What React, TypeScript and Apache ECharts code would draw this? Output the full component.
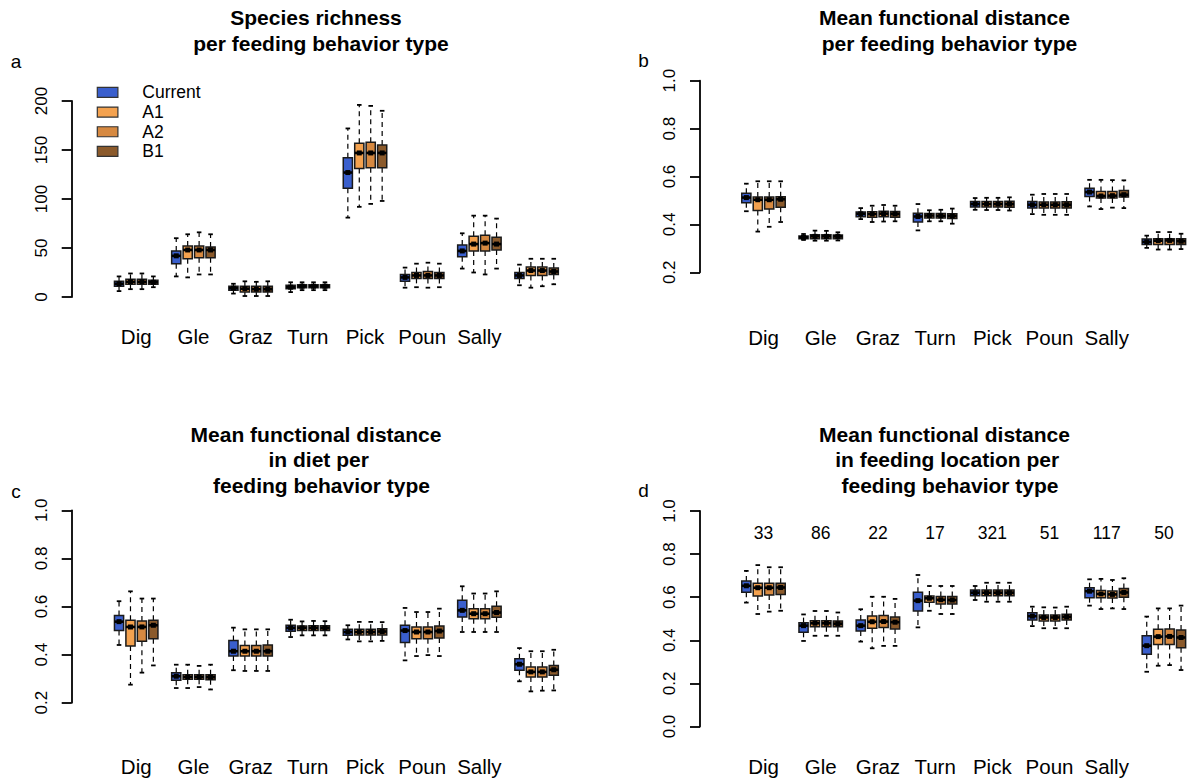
import React, { useEffect, useRef } from 'react';
import * as echarts from 'echarts';

// ---------- data ----------
const GROUPS = ['Dig', 'Gle', 'Graz', 'Turn', 'Pick', 'Poun', 'Sally', ''];
const SCENARIOS = ['Current', 'A1', 'A2', 'B1'];
const SAMPLE_SIZES = [33, 86, 22, 17, 321, 51, 117, 50];

// each entry: [lower whisker, Q1, median, Q3, upper whisker]
const richCurrent = [[6, 11, 13.5, 16, 21], [21, 34, 42, 47, 60], [3.5, 7, 9, 11, 13.5], [5, 8.5, 10, 12, 15], [81, 111, 127, 142, 172], [9.5, 16, 20, 23, 30], [29, 41, 47, 53, 65], [12, 19, 22, 25, 33]];
const richA1 = [[8, 13, 15.5, 18, 24], [20, 39, 48, 52, 64], [1, 5, 8.5, 11, 16], [7, 9.5, 11, 12.5, 15], [92, 131, 147, 157, 196], [10, 19, 22, 25, 34], [25, 47, 54, 62, 83], [9.5, 22, 27, 30.5, 39]];
const richA2 = [[8, 13, 15.5, 18, 24], [23, 40, 48, 52, 66], [1, 5, 8, 11, 15.5], [7, 9.5, 11, 12.5, 15], [95, 132, 147, 158, 195], [9.5, 19, 22, 26, 35], [23, 47, 55, 63, 83], [11, 22, 27, 30.5, 39]];
const richB1 = [[10, 13, 15, 17, 21], [23, 40, 48, 51, 64], [1, 5, 8, 11, 16], [7, 9.5, 11, 12.5, 15], [98, 132, 147, 155, 190], [10, 19, 22, 25, 34], [29, 48, 54, 61, 80], [13, 23, 26, 29.5, 39]];

const mfdCurrent = [[0.455, 0.49, 0.512, 0.53, 0.57], [0.335, 0.34, 0.346, 0.352, 0.36], [0.422, 0.432, 0.444, 0.452, 0.468], [0.375, 0.41, 0.433, 0.447, 0.485], [0.461, 0.473, 0.485, 0.496, 0.51], [0.443, 0.468, 0.482, 0.496, 0.524], [0.475, 0.517, 0.535, 0.551, 0.586], [0.302, 0.316, 0.327, 0.339, 0.353]];
const mfdA1 = [[0.37, 0.458, 0.503, 0.514, 0.58], [0.332, 0.34, 0.35, 0.357, 0.374], [0.41, 0.43, 0.443, 0.453, 0.478], [0.413, 0.427, 0.437, 0.445, 0.459], [0.46, 0.473, 0.485, 0.496, 0.511], [0.44, 0.468, 0.482, 0.494, 0.527], [0.464, 0.51, 0.519, 0.537, 0.586], [0.295, 0.316, 0.332, 0.34, 0.368]];
const mfdA2 = [[0.39, 0.464, 0.503, 0.514, 0.58], [0.332, 0.34, 0.35, 0.357, 0.373], [0.412, 0.432, 0.445, 0.455, 0.481], [0.413, 0.427, 0.436, 0.445, 0.461], [0.46, 0.473, 0.485, 0.496, 0.511], [0.44, 0.468, 0.482, 0.494, 0.527], [0.47, 0.51, 0.52, 0.537, 0.585], [0.295, 0.316, 0.333, 0.34, 0.368]];
const mfdB1 = [[0.41, 0.472, 0.505, 0.515, 0.58], [0.333, 0.34, 0.35, 0.356, 0.367], [0.413, 0.43, 0.444, 0.454, 0.478], [0.403, 0.425, 0.435, 0.444, 0.466], [0.458, 0.472, 0.485, 0.497, 0.513], [0.44, 0.468, 0.482, 0.495, 0.527], [0.468, 0.514, 0.524, 0.542, 0.584], [0.297, 0.316, 0.33, 0.34, 0.361]];

const dietCurrent = [[0.44, 0.5, 0.537, 0.563, 0.622], [0.261, 0.293, 0.31, 0.325, 0.358], [0.335, 0.394, 0.414, 0.459, 0.512], [0.473, 0.497, 0.511, 0.522, 0.545], [0.463, 0.48, 0.494, 0.505, 0.522], [0.376, 0.45, 0.5, 0.522, 0.594], [0.494, 0.556, 0.584, 0.626, 0.684], [0.289, 0.335, 0.36, 0.383, 0.427]];
const dietA1 = [[0.275, 0.436, 0.515, 0.543, 0.663], [0.261, 0.297, 0.307, 0.316, 0.358], [0.332, 0.394, 0.414, 0.438, 0.505], [0.48, 0.5, 0.511, 0.519, 0.538], [0.455, 0.481, 0.494, 0.505, 0.536], [0.394, 0.466, 0.494, 0.515, 0.577], [0.494, 0.549, 0.57, 0.591, 0.654], [0.247, 0.307, 0.328, 0.348, 0.414]];
const dietA2 = [[0.325, 0.455, 0.515, 0.54, 0.633], [0.265, 0.297, 0.307, 0.316, 0.353], [0.332, 0.394, 0.414, 0.438, 0.505], [0.48, 0.5, 0.511, 0.52, 0.54], [0.455, 0.481, 0.494, 0.505, 0.536], [0.398, 0.466, 0.494, 0.515, 0.577], [0.494, 0.549, 0.57, 0.591, 0.654], [0.25, 0.307, 0.328, 0.348, 0.414]];
const dietB1 = [[0.355, 0.466, 0.522, 0.543, 0.633], [0.255, 0.295, 0.306, 0.316, 0.358], [0.332, 0.394, 0.414, 0.44, 0.505], [0.48, 0.5, 0.511, 0.52, 0.539], [0.457, 0.482, 0.496, 0.507, 0.535], [0.394, 0.469, 0.498, 0.519, 0.591], [0.494, 0.555, 0.575, 0.601, 0.663], [0.251, 0.314, 0.337, 0.355, 0.42]];

const locCurrent = [[0.575, 0.623, 0.653, 0.675, 0.722], [0.397, 0.437, 0.468, 0.482, 0.52], [0.394, 0.443, 0.468, 0.494, 0.544], [0.46, 0.536, 0.584, 0.623, 0.703], [0.587, 0.607, 0.621, 0.633, 0.652], [0.466, 0.494, 0.512, 0.528, 0.556], [0.561, 0.598, 0.628, 0.644, 0.683], [0.254, 0.335, 0.375, 0.421, 0.51]];
const locA1 = [[0.522, 0.606, 0.644, 0.665, 0.749], [0.421, 0.463, 0.479, 0.491, 0.536], [0.363, 0.456, 0.486, 0.513, 0.602], [0.537, 0.576, 0.595, 0.605, 0.652], [0.579, 0.607, 0.621, 0.633, 0.667], [0.456, 0.49, 0.506, 0.517, 0.553], [0.545, 0.598, 0.615, 0.631, 0.685], [0.282, 0.381, 0.417, 0.451, 0.548]];
const locA2 = [[0.533, 0.61, 0.644, 0.665, 0.739], [0.421, 0.463, 0.479, 0.491, 0.536], [0.374, 0.459, 0.487, 0.515, 0.602], [0.522, 0.569, 0.588, 0.603, 0.652], [0.579, 0.607, 0.621, 0.633, 0.667], [0.456, 0.49, 0.506, 0.517, 0.552], [0.548, 0.596, 0.613, 0.629, 0.68], [0.285, 0.381, 0.418, 0.452, 0.548]];
const locB1 = [[0.537, 0.613, 0.645, 0.665, 0.739], [0.421, 0.463, 0.477, 0.49, 0.529], [0.374, 0.453, 0.484, 0.508, 0.592], [0.522, 0.569, 0.587, 0.603, 0.652], [0.579, 0.607, 0.621, 0.633, 0.667], [0.456, 0.494, 0.509, 0.521, 0.556], [0.545, 0.6, 0.622, 0.64, 0.688], [0.262, 0.366, 0.413, 0.448, 0.561]];

const PANEL_DATA = [
  [richCurrent, richA1, richA2, richB1],
  [mfdCurrent, mfdA1, mfdA2, mfdB1],
  [dietCurrent, dietA1, dietA2, dietB1],
  [locCurrent, locA1, locA2, locB1],
];

const TITLES = [
  ['Species richness', 'per feeding behavior type'],
  ['Mean functional distance', 'per feeding behavior type'],
  ['Mean functional distance', 'in diet per', 'feeding behavior type'],
  ['Mean functional distance', 'in feeding location per', 'feeding behavior type'],
];
const LETTERS = ['a', 'b', 'c', 'd'];

const Y_SCALES = [
  { min: 0, max: 200, interval: 50, decimals: 0 },
  { min: 0.2, max: 1, interval: 0.2, decimals: 1 },
  { min: 0.2, max: 1, interval: 0.2, decimals: 1 },
  { min: 0, max: 1, interval: 0.2, decimals: 1 },
];

// ---------- styling / layout ----------
const FONT = 'Liberation Sans';
const COLORS = ['#3A5FCD', '#F4A24F', '#D68941', '#8B5A2B'];
const GROUP_PX = 57.2;
const SLOT = 0.2;
const BOX_W = 0.16;

const LAYOUT = [
  { left: 79, axisX: 71.7, top: 101, bottom: 297, xMax: 8, labelMargin: 29, titleX: 316, titleY: [17, 43], letter: [16, 61] },
  { left: 706.3, axisX: 700, top: 80.7, bottom: 272.3, xMax: 7.42, labelMargin: 55, titleX: 944.5, titleY: [17, 43], letter: [643.5, 60] },
  { left: 79, axisX: 71.7, top: 510.3, bottom: 702.7, xMax: 8, labelMargin: 53, titleX: 316, titleY: [434, 459, 485], letter: [16, 491] },
  { left: 706.3, axisX: 700, top: 511, bottom: 726.5, xMax: 7.42, labelMargin: 29.5, titleX: 944.5, titleY: [434, 459, 485], letter: [643.5, 490] },
];
const LINE_SHIFT = [[0, 5], [0, 5], [0, 2.7, 5.5], [0, 2.7, 5.5]];

const renderBox = (color: string) => (_params: any, api: any) => {
  const u = api.value(0);
  const pMin = api.coord([u, api.value(1)]);
  const pQ1 = api.coord([u, api.value(2)]);
  const pMed = api.coord([u, api.value(3)]);
  const pQ3 = api.coord([u, api.value(4)]);
  const pMax = api.coord([u, api.value(5)]);
  const xl = api.coord([u - BOX_W / 2, api.value(3)])[0];
  const xr = api.coord([u + BOX_W / 2, api.value(3)])[0];
  const cx = pMed[0];
  const bw = xr - xl;
  const cap = bw / 4;
  const dash = { stroke: '#000', lineWidth: 1.2, lineDash: [5, 4] };
  const solid = { stroke: '#000', lineWidth: 1.8 };
  return {
    type: 'group',
    children: [
      { type: 'line', shape: { x1: cx, y1: pQ3[1], x2: cx, y2: pMax[1] }, style: dash },
      { type: 'line', shape: { x1: cx, y1: pQ1[1], x2: cx, y2: pMin[1] }, style: dash },
      { type: 'line', shape: { x1: cx - cap, y1: pMax[1], x2: cx + cap, y2: pMax[1] }, style: solid },
      { type: 'line', shape: { x1: cx - cap, y1: pMin[1], x2: cx + cap, y2: pMin[1] }, style: solid },
      {
        type: 'rect',
        shape: { x: xl, y: pQ3[1], width: bw, height: pQ1[1] - pQ3[1] },
        style: { fill: color, stroke: '#1a1a1a', lineWidth: 1.5 },
      },
      { type: 'line', shape: { x1: xl, y1: pMed[1], x2: xr, y2: pMed[1] }, style: { stroke: '#000', lineWidth: 2.6 } },
      { type: 'rect', shape: { x: cx - 2.5, y: pMed[1] - 2.5, width: 5, height: 5 }, style: { fill: '#000' } },
    ],
  };
};

export default function App() {
  const ref = useRef<HTMLDivElement>(null);

  useEffect(() => {
    if (!ref.current) return;
    const chart = echarts.init(ref.current, null, { renderer: 'svg' });

    const grid = LAYOUT.map((L) => ({
      left: L.left,
      top: L.top,
      width: (L.xMax + 1) * GROUP_PX,
      height: L.bottom - L.top,
      containLabel: false,
      outerBoundsMode: 'none',
    }));

    const xAxis = LAYOUT.map((L, i) => ({
      type: 'value',
      gridIndex: i,
      min: -1,
      max: L.xMax,
      interval: 1,
      axisLine: { show: false, onZero: false },
      axisTick: { show: false },
      splitLine: { show: false },
      axisLabel: {
        margin: L.labelMargin,
        fontSize: 20.5,
        color: '#000',
        fontFamily: FONT,
        showMinLabel: true,
        showMaxLabel: true,
        hideOverlap: false,
        formatter: (v: number) => {
          const r = Math.round(v);
          if (Math.abs(v - r) > 1e-6) return '';
          return GROUPS[r] ?? '';
        },
      },
    }));

    const yAxis = LAYOUT.map((L, i) => {
      const S = Y_SCALES[i];
      return {
        type: 'value',
        gridIndex: i,
        min: S.min,
        max: S.max,
        interval: S.interval,
        offset: L.left - L.axisX,
        axisLine: { show: true, onZero: false, lineStyle: { color: '#000', width: 1.8 } },
        axisTick: { show: true, length: 10, lineStyle: { color: '#000', width: 1.8 } },
        splitLine: { show: false },
        axisLabel: {
          rotate: 90,
          margin: 22,
          fontSize: 17,
          color: '#000',
          fontFamily: FONT,
          showMinLabel: true,
          showMaxLabel: true,
          formatter: (v: number) => v.toFixed(S.decimals),
        },
      };
    });

    const series: any[] = [];
    PANEL_DATA.forEach((panel, i) => {
      panel.forEach((stats, k) => {
        series.push({
          type: 'custom',
          name: SCENARIOS[k],
          xAxisIndex: i,
          yAxisIndex: i,
          clip: false,
          silent: true,
          itemStyle: { color: COLORS[k] },
          encode: { x: 0, y: [1, 2, 3, 4, 5] },
          data: stats.map((s, g) => [g + (k - 1.5) * SLOT, ...s]),
          renderItem: renderBox(COLORS[k]),
        });
      });
    });

    series.push({
      type: 'custom',
      xAxisIndex: 3,
      yAxisIndex: 3,
      clip: false,
      silent: true,
      encode: { x: 0, y: 1 },
      data: SAMPLE_SIZES.map((n, g) => [g, 0.9, n]),
      renderItem: (_p: any, api: any) => {
        const c = api.coord([api.value(0), api.value(1)]);
        return {
          type: 'text',
          x: c[0],
          y: c[1],
          style: {
            text: String(api.value(2)),
            fontSize: 17.5,
            fontFamily: FONT,
            fill: '#000',
            align: 'center',
            verticalAlign: 'middle',
          },
        };
      },
    });

    const graphic: any[] = [];
    LAYOUT.forEach((L, i) => {
      TITLES[i].forEach((line, j) => {
        graphic.push({
          type: 'text',
          x: L.titleX + LINE_SHIFT[i][j],
          y: L.titleY[j],
          style: {
            text: line,
            fontSize: 21,
            fontWeight: 'bold',
            fontFamily: FONT,
            fill: '#000',
            align: 'center',
            verticalAlign: 'middle',
          },
        });
      });
      graphic.push({
        type: 'text',
        x: L.letter[0],
        y: L.letter[1],
        style: {
          text: LETTERS[i],
          fontSize: 19,
          fontFamily: FONT,
          fill: '#000',
          align: 'center',
          verticalAlign: 'middle',
        },
      });
    });

    chart.setOption({
      animation: false,
      backgroundColor: '#ffffff',
      textStyle: { fontFamily: FONT },
      grid,
      xAxis,
      yAxis,
      legend: {
        show: true,
        orient: 'vertical',
        left: 96.7,
        top: 82.5,
        padding: 0,
        itemGap: 0,
        itemWidth: 20.6,
        itemHeight: 10,
        icon: 'rect',
        selectedMode: false,
        textStyle: { fontSize: 17.5, color: '#000', fontFamily: FONT, lineHeight: 19.7, padding: [0, 0, 0, 19.4] },
        data: SCENARIOS.map((n, k) => ({
          name: n,
          itemStyle: { color: COLORS[k], borderColor: '#333', borderWidth: 1.2 },
        })),
      },
      graphic,
      series,
    });

    return () => chart.dispose();
  }, []);

  return (
    <div
      ref={ref}
      style={{ position: 'fixed', left: 0, top: 0, width: 1189, height: 784, background: '#fff' }}
    />
  );
}
